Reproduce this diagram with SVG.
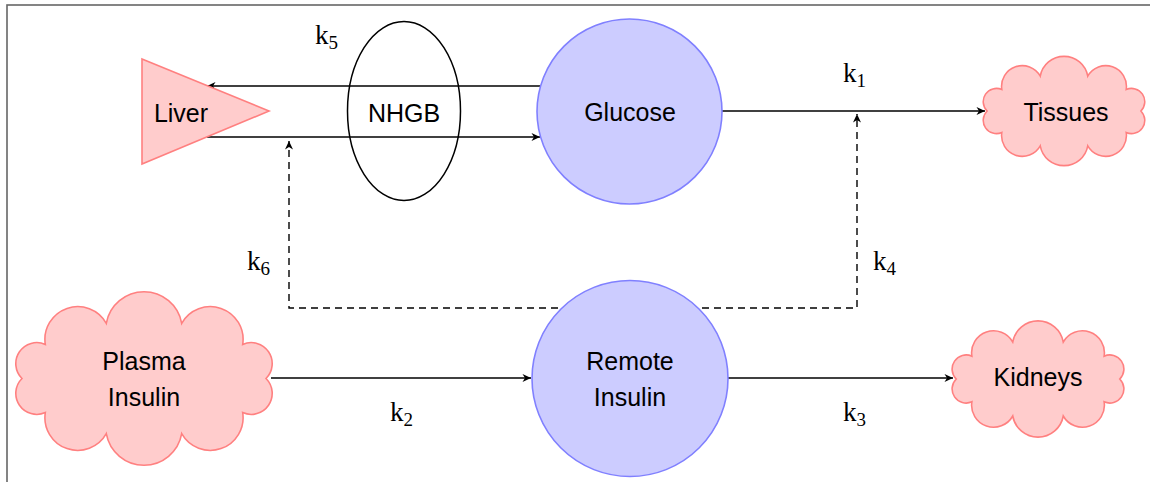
<svg xmlns="http://www.w3.org/2000/svg" width="1150" height="482" viewBox="0 0 1150 482">
  <style>
    .frame { fill: none; stroke: #666666; stroke-width: 1.6; }
    .pink { fill: #ffcccc; stroke: #ff8080; stroke-width: 1.6; }
    .blue { fill: #ccccff; stroke: #8080ff; stroke-width: 1.6; }
    .ring { fill: none; stroke: #000000; stroke-width: 1.5; }
    .edge { fill: none; stroke: #000000; stroke-width: 1.4; marker-end: url(#tip); }
    .dash { stroke-dasharray: 7 5; }
    .lbl { font-family: "Liberation Sans", "DejaVu Sans", sans-serif; font-size: 25px; fill: #000000; text-anchor: middle; }
    .rate { font-family: "Liberation Serif", "DejaVu Serif", serif; font-size: 27px; fill: #000000; }
    .sub { font-size: 19px; }
  </style>
  <defs>
    <marker id="tip" viewBox="-10 -5 11 10" refX="0" refY="0" markerWidth="11" markerHeight="10" markerUnits="userSpaceOnUse" orient="auto">
      <path d="M0,0 L-8.5,-4 L-6,0 L-8.5,4 Z" fill="#000000"/>
    </marker>
    <!-- ten-puff cloud outline centred on the origin -->
    <path id="cloud" d="M122,0 A21,21 0 0 0 98.7,-34.1 A32.8,32.8 0 0 0 37.7,-55.2 A38.3,38.3 0 0 0 -37.7,-55.2 A32.8,32.8 0 0 0 -98.7,-34.1 A21,21 0 0 0 -122,0 A21,21 0 0 0 -98.7,34.1 A32.8,32.8 0 0 0 -37.7,55.2 A38.3,38.3 0 0 0 37.7,55.2 A32.8,32.8 0 0 0 98.7,34.1 A21,21 0 0 0 122,0 Z"/>
  </defs>

  <!-- outer frame -->
  <rect class="frame" x="7" y="5" width="1200" height="600"/>

  <!-- connectors -->
  <g id="connectors">
    <path class="edge dash" d="M630,308 H289 V141"/>
    <path class="edge dash" d="M630,308 H857 V114"/>
    <path class="edge" d="M540,86 H207"/>
    <path class="edge" d="M207,137 H540"/>
    <path class="edge" d="M722,111 H985"/>
    <path class="edge" d="M271,378 H531"/>
    <path class="edge" d="M728,378 H953"/>
  </g>

  <!-- rate constants -->
  <g id="rates">
    <text class="rate" x="315" y="44">k<tspan class="sub" dy="5">5</tspan></text>
    <text class="rate" x="843" y="82">k<tspan class="sub" dy="5">1</tspan></text>
    <text class="rate" x="247" y="270">k<tspan class="sub" dy="5">6</tspan></text>
    <text class="rate" x="873" y="270">k<tspan class="sub" dy="5">4</tspan></text>
    <text class="rate" x="390" y="421">k<tspan class="sub" dy="5">2</tspan></text>
    <text class="rate" x="843" y="421">k<tspan class="sub" dy="5">3</tspan></text>
  </g>

  <!-- nodes -->
  <g id="liver">
    <polygon class="pink" points="142,59 269,111 142,164"/>
    <text class="lbl" x="181" y="122">Liver</text>
  </g>
  <g id="nhgb">
    <ellipse class="ring" cx="404" cy="111" rx="56.5" ry="89.5"/>
    <text class="lbl" x="404" y="122">NHGB</text>
  </g>
  <g id="glucose">
    <circle class="blue" cx="629.5" cy="111.5" r="92.5"/>
    <text class="lbl" x="630" y="121">Glucose</text>
  </g>
  <g id="tissues">
    <use href="#cloud" class="pink" transform="translate(1064,111) scale(0.63)" style="stroke-width:2.5"/>
    <text class="lbl" x="1066" y="121">Tissues</text>
  </g>
  <g id="plasma-insulin">
    <use href="#cloud" class="pink" transform="translate(144,378.5)"/>
    <text class="lbl" x="144" y="370">Plasma</text>
    <text class="lbl" x="144" y="406">Insulin</text>
  </g>
  <g id="remote-insulin">
    <circle class="blue" cx="630" cy="378.5" r="98"/>
    <text class="lbl" x="630" y="370">Remote</text>
    <text class="lbl" x="630" y="406">Insulin</text>
  </g>
  <g id="kidneys">
    <use href="#cloud" class="pink" transform="translate(1038,379) scale(0.67)" style="stroke-width:2.4"/>
    <text class="lbl" x="1038" y="386">Kidneys</text>
  </g>
</svg>
